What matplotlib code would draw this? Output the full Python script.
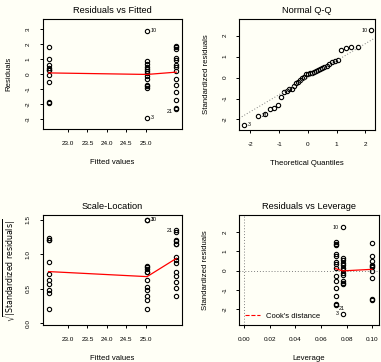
import numpy as np
import matplotlib
matplotlib.use("Agg")
import matplotlib.pyplot as plt
from matplotlib.lines import Line2D
from matplotlib.ticker import FormatStrFormatter
from statistics import NormalDist

plt.rcParams["font.family"] = ["Liberation Sans", "DejaVu Sans"]
plt.rcParams["axes.unicode_minus"] = False

# one-way model: fitted value of each group and its residuals
fitted_levels = [22.5, 25.03, 25.78]
resid_g1 = [1.84, 1.0, 0.64, 0.4, 0.3, 0.25, -0.05, -0.5, -1.86, -1.92]
resid_g2 = [2.9, 0.85, 0.7, 0.5, 0.35, 0.2, 0.05, -0.15, -0.3, -0.7, -0.8, -0.9, -2.9]
resid_g3 = [1.9, 1.82, 1.7, 1.1, 0.98, 0.6, 0.46, 0.2, -0.33, -0.71, -1.19, -1.7, -2.25, -2.34]
# observation numbers R flags: (group, position in group)
flagged = {"10": (1, 0), "3": (1, 12), "21": (2, 13)}
n_coef = 3

fitted_ticks = [23.0, 23.5, 24.0, 24.5, 25.0]
lev_ticks = [0.00, 0.02, 0.04, 0.06, 0.08, 0.10]

groups = [resid_g1, resid_g2, resid_g3]
fitted = np.concatenate([[f] * len(g) for f, g in zip(fitted_levels, groups)])
resid = np.concatenate(groups)
hat = np.concatenate([[1.0 / len(g)] * len(g) for g in groups])
n = len(resid)
sigma = np.sqrt(np.sum(resid ** 2) / (n - n_coef))
std_res = resid / (sigma * np.sqrt(1 - hat))
sqrt_abs = np.sqrt(np.abs(std_res))
offsets = np.cumsum([0] + [len(g) for g in groups])
flag_idx = {k: offsets[g] + i for k, (g, i) in flagged.items()}

# normal quantiles for the Q-Q panel (ppoints, n > 10)
order = np.argsort(std_res)
theo = np.empty(n)
theo[order] = [NormalDist().inv_cdf((k + 0.5) / n) for k in range(n)]


def lowess(x, y, f=2 / 3, iters=3):
    """plain Cleveland lowess, same settings as R's panel.smooth"""
    o = np.argsort(x, kind="stable")
    x, y = np.asarray(x, float)[o], np.asarray(y, float)[o]
    m = len(x)
    ns = max(min(int(f * m + 1e-7), m), 2)
    rw = np.ones(m)
    fit = np.zeros(m)
    for it in range(iters + 1):
        for i in range(m):
            d = np.abs(x - x[i])
            h = np.sort(d)[ns - 1]
            u = d / h
            w = np.where(u < 0.999, (1 - u ** 3) ** 3, 0.0)
            w[u <= 0.001] = 1.0
            w = w * rw
            w = w / w.sum()
            xm = np.sum(w * x)
            ym = np.sum(w * y)
            c = np.sum(w * (x - xm) ** 2)
            b = np.sum(w * (x - xm) * (y - ym)) / c if np.sqrt(c) > 0.001 * (x[-1] - x[0]) else 0.0
            fit[i] = ym + b * (x[i] - xm)
        if it == iters:
            break
        res = y - fit
        cmad = 6 * np.median(np.abs(res))
        if cmad < 1e-7 * np.mean(np.abs(y)):
            break
        u = np.abs(res) / cmad
        rw = np.where(u < 1, (1 - u ** 2) ** 2, 0.0)
    return x, fit


fig = plt.figure(figsize=(3.81, 3.62), dpi=100)
bg = "#fffff6"
fig.patch.set_facecolor(bg)

ax1 = fig.add_axes([0.112, 0.643, 0.365, 0.305])
ax2 = fig.add_axes([0.628, 0.641, 0.356, 0.307])
ax3 = fig.add_axes([0.112, 0.102, 0.365, 0.304])
ax4 = fig.add_axes([0.628, 0.102, 0.367, 0.304])

pt = dict(marker="o", mfc="none", mec="black", mew=0.8, ms=3.1, ls="none")


def style(ax, title, xlabel, ylabel):
    ax.set_facecolor(bg)
    for s in ax.spines.values():
        s.set_linewidth(0.8)
    ax.tick_params(length=2.5, width=0.7, pad=6, labelsize=4.6)
    ax.tick_params(axis="y", labelrotation=90)
    for lab in ax.get_yticklabels():
        lab.set_va("center")
    ax.set_title(title, fontsize=6.7, pad=4)
    ax.set_xlabel(xlabel, fontsize=5.6)
    ax.set_ylabel(ylabel, fontsize=5.6)
    ax.xaxis.label.set_va("center")
    ax.yaxis.label.set_va("center")
    ax.xaxis.set_label_coords(0.5, -0.3)
    ax.yaxis.set_label_coords(-0.24, 0.5)


def tag(ax, x, y, text, side, dy=0):
    dx = 2.5 if side == "r" else -2.5
    ax.annotate(text, (x, y), xytext=(dx, dy), textcoords="offset points",
                ha="left" if side == "r" else "right", va="center", fontsize=3.9)


# Residuals vs Fitted
ax1.plot(fitted, resid, **pt)
lx, ly = lowess(fitted, resid)
ax1.plot(lx, ly, color="red", lw=0.9)
ax1.set_xlim(22.35, 25.92)
ax1.set_ylim(-3.68, 3.7)
ax1.set_xticks(fitted_ticks)
ax1.xaxis.set_major_formatter(FormatStrFormatter("%.1f"))
ax1.set_yticks([-3, -2, -1, 0, 1, 2, 3])
style(ax1, "Residuals vs Fitted", "Fitted values", "Residuals")
tag(ax1, fitted[flag_idx["10"]], resid[flag_idx["10"]], "10", "r")
tag(ax1, fitted[flag_idx["3"]], resid[flag_idx["3"]], "3", "r")
tag(ax1, fitted[flag_idx["21"]], resid[flag_idx["21"]], "21", "l", dy=-1.5)

# Normal Q-Q
ax2.plot(theo, std_res, **pt)
qy = np.quantile(std_res, [0.25, 0.75])
qx = [NormalDist().inv_cdf(0.25), NormalDist().inv_cdf(0.75)]
slope = (qy[1] - qy[0]) / (qx[1] - qx[0])
ax2.axline((0, qy[0] - slope * qx[0]), slope=slope, color="gray", ls=(0, (1, 2)), lw=0.7)
ax2.set_xlim(-2.39, 2.33)
ax2.set_ylim(-2.5, 2.8)
ax2.set_xticks([-2, -1, 0, 1, 2])
ax2.set_yticks([-2, -1, 0, 1, 2])
style(ax2, "Normal Q-Q", "Theoretical Quantiles", "Standardized residuals")
tag(ax2, theo[flag_idx["10"]], std_res[flag_idx["10"]], "10", "l")
tag(ax2, theo[flag_idx["3"]], std_res[flag_idx["3"]], "3", "r")
tag(ax2, theo[flag_idx["21"]], std_res[flag_idx["21"]], "21", "r")

# Scale-Location
ax3.plot(fitted, sqrt_abs, **pt)
lx, ly = lowess(fitted, sqrt_abs)
ax3.plot(lx, ly, color="red", lw=0.9)
ax3.set_xlim(22.35, 25.92)
ax3.set_ylim(-0.03, 1.57)
ax3.set_xticks(fitted_ticks)
ax3.xaxis.set_major_formatter(FormatStrFormatter("%.1f"))
ax3.set_yticks([0.0, 0.5, 1.0, 1.5])
ax3.yaxis.set_major_formatter(FormatStrFormatter("%.1f"))
style(ax3, "Scale-Location", "Fitted values", r"$\sqrt{|\mathrm{Standardized\ residuals}|}$")
tag(ax3, fitted[flag_idx["10"]], sqrt_abs[flag_idx["10"]], "10", "r")
tag(ax3, fitted[flag_idx["3"]], sqrt_abs[flag_idx["3"]], "3", "r")
tag(ax3, fitted[flag_idx["21"]], sqrt_abs[flag_idx["21"]], "21", "l")

# Residuals vs Leverage
ax4.axhline(0, color="gray", ls=(0, (1, 2)), lw=0.7)
ax4.axvline(0, color="gray", ls=(0, (1, 2)), lw=0.7)
ax4.plot(hat, std_res, **pt)
lx, ly = lowess(hat, std_res)
ax4.plot(lx, ly, color="red", lw=0.9)
ax4.set_xlim(-0.004, 0.1055)
ax4.set_ylim(-2.84, 2.9)
ax4.set_xticks(lev_ticks)
ax4.xaxis.set_major_formatter(FormatStrFormatter("%.2f"))
ax4.set_yticks([-2, -1, 0, 1, 2])
style(ax4, "Residuals vs Leverage", "Leverage", "Standardized residuals")
tag(ax4, hat[flag_idx["10"]], std_res[flag_idx["10"]], "10", "l")
tag(ax4, hat[flag_idx["3"]], std_res[flag_idx["3"]], "3", "l")
tag(ax4, hat[flag_idx["21"]], std_res[flag_idx["21"]], "21", "r", dy=-2)
ax4.legend(handles=[Line2D([], [], color="red", ls="--", lw=0.8)], labels=["Cook's distance"],
           loc="lower left", frameon=False, fontsize=5.5, handlelength=2.0,
           borderaxespad=0.3, handletextpad=0.8)

fig.savefig("out.png", dpi=100, facecolor=bg)
